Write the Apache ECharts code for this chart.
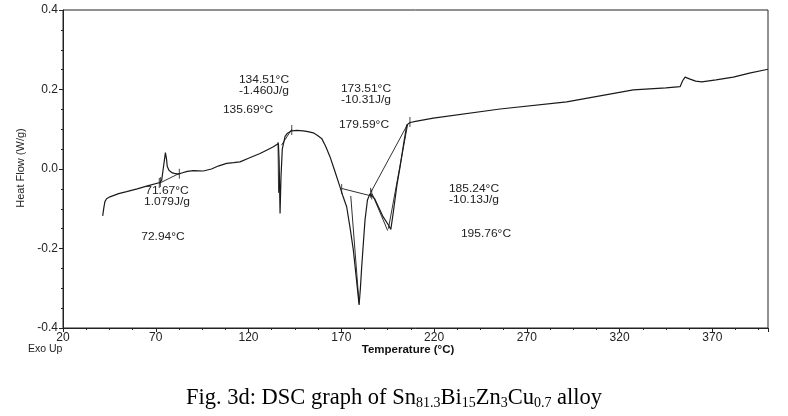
<!DOCTYPE html>
<html>
<head>
<meta charset="utf-8">
<script src="https://cdn.jsdelivr.net/npm/echarts@6/dist/echarts.min.js"></script>
<style>
html,body{margin:0;padding:0;background:#fff;}
#chart{width:788px;height:416px;}
</style>
</head>
<body>
<div id="chart"></div>
<script>
// ---- Data ----
var temperature = [41.4, 42.0, 42.6, 43.5, 45.3, 50, 54.3, 60, 66, 72.3, 73.2, 74.3, 75.2, 75.8, 76.2, 77.2, 78.6, 80, 82.2, 84, 87, 90.3, 95.6, 100, 104, 108.2, 112, 115.4, 120, 126.2, 130, 133.4, 136.1, 136.5, 137.0, 137.5, 138.2, 139.7, 141, 143.3, 146, 149.5, 152, 154.9, 157, 159.4, 161.5, 163.9, 166.5, 169.3, 171, 172.9, 174.8, 176.5, 178, 179.6, 180.3, 181, 182, 182.8, 184.1, 185.5, 186.5, 188, 190, 192.5, 195.4, 196.7, 198, 200, 201.7, 203.5, 205.3, 207.1, 210, 219.6, 255.6, 291.5, 327.4, 345, 352.6, 354, 355.3, 358, 361, 364.3, 372, 381.3, 390, 400];
var heatFlow = [-0.118, -0.098, -0.082, -0.075, -0.070, -0.062, -0.057, -0.050, -0.042, -0.034, -0.028, 0.010, 0.041, 0.025, 0.006, -0.004, -0.009, -0.011, -0.013, -0.010, -0.006, -0.004, -0.005, 0.000, 0.008, 0.014, 0.016, 0.018, 0.027, 0.039, 0.048, 0.056, 0.064, 0.020, -0.112, -0.020, 0.050, 0.082, 0.090, 0.096, 0.097, 0.096, 0.094, 0.091, 0.085, 0.077, 0.058, 0.031, -0.005, -0.045, -0.070, -0.095, -0.150, -0.204, -0.270, -0.342, -0.300, -0.246, -0.180, -0.128, -0.078, -0.062, -0.058, -0.075, -0.095, -0.120, -0.141, -0.152, -0.110, -0.040, 0.006, 0.060, 0.111, 0.117, 0.120, 0.128, 0.151, 0.169, 0.199, 0.204, 0.207, 0.222, 0.231, 0.226, 0.221, 0.219, 0.224, 0.231, 0.241, 0.251];

// analysis construction lines (baselines / tangents), each a pair of [T, W/g]
var constructionLines = [
  [[71.9, -0.036], [82.7, -0.011]],
  [[135.9, 0.068], [136.2, -0.060]],
  [[137.8, 0.060], [143.3, 0.100]],
  [[170.2, -0.049], [186.4, -0.068]],
  [[175.1, -0.068], [179.6, -0.338]],
  [[186.0, -0.058], [205.8, 0.113]],
  [[186.6, -0.062], [195.0, -0.155]],
  [[195.4, -0.150], [205.8, 0.113]]
];

// short vertical cursor marks on the curve
var cursorMarks = [[71.9, -0.035], [72.5, -0.033], [82.7, -0.012], [143.3, 0.098], [170.2, -0.050], [186.4, -0.064], [185.8, -0.060], [207.0, 0.118]];

var yTicks = [-0.4, -0.2, 0.0, 0.2, 0.4];
var xTicks = [20, 70, 120, 170, 220, 270, 320, 370];

var annotationTexts = [
  '134.51°C\n-1.460J/g',
  '135.69°C',
  '173.51°C\n-10.31J/g',
  '179.59°C',
  '71.67°C\n1.079J/g',
  '72.94°C',
  '185.24°C\n-10.13J/g',
  '195.76°C'
];

var captionParts = [['Fig. 3d: DSC graph of Sn', 'n'], ['81.3', 's'], ['Bi', 'n'], ['15', 's'], ['Zn', 'n'], ['3', 's'], ['Cu', 'n'], ['0.7', 's'], [' alloy', 'n']];

// ---- Layout ----
var annotationPos = [[264, 85.5], [248, 110], [366, 95], [364, 125], [167, 197], [163, 237], [474, 195], [486, 234]];

var ink = '#1a1a1a';
var series = [{
  type: 'line',
  data: temperature.map(function (t, i) { return [t, heatFlow[i]]; }),
  showSymbol: false,
  lineStyle: { color: ink, width: 1.2 },
  z: 3,
  silent: true
}];
constructionLines.forEach(function (seg) {
  series.push({
    type: 'line', data: seg, showSymbol: false, silent: true,
    lineStyle: { color: ink, width: 0.9 }, z: 2
  });
});
series.push({
  type: 'scatter', data: cursorMarks, symbol: 'rect', symbolSize: [1, 10],
  itemStyle: { color: ink }, silent: true, z: 4
});

var graphics = annotationTexts.map(function (txt, i) {
  return {
    type: 'text', x: annotationPos[i][0], y: annotationPos[i][1], scaleX: 1.2, scaleY: 1,
    style: { text: txt, fill: '#222', font: '10px "Liberation Sans", Arial, sans-serif', align: 'center', verticalAlign: 'middle', lineHeight: 11 }
  };
});
graphics.push({
  type: 'text', x: 21, y: 168, rotation: Math.PI / 2,
  style: { text: 'Heat Flow (W/g)', fill: '#222', font: '11px "Liberation Sans", Arial, sans-serif', align: 'center', verticalAlign: 'middle' }
});
graphics.push({
  type: 'text', x: 408, y: 350,
  style: { text: 'Temperature (°C)', fill: '#111', font: 'bold 11.5px "Liberation Sans", Arial, sans-serif', align: 'center', verticalAlign: 'middle' }
});
graphics.push({
  type: 'text', x: 28, y: 349,
  style: { text: 'Exo Up', fill: '#222', font: '10.5px "Liberation Sans", Arial, sans-serif', align: 'left', verticalAlign: 'middle' }
});
graphics.push({
  type: 'text', x: 394, y: 398,
  style: {
    text: captionParts.map(function (p) { return '{' + p[1] + '|' + p[0] + '}'; }).join(''),
    align: 'center', verticalAlign: 'middle',
    rich: {
      n: { fontFamily: '"Liberation Serif", "Times New Roman", serif', fontSize: 22.5, fill: '#000', lineHeight: 26, verticalAlign: 'middle' },
      s: { fontFamily: '"Liberation Serif", "Times New Roman", serif', fontSize: 14, fill: '#000', lineHeight: 26, verticalAlign: 'bottom', padding: [0, 0, 1, 0] }
    }
  }
});

var chart = echarts.init(document.getElementById('chart'), null, { renderer: 'canvas' });
chart.setOption({
  animation: false,
  backgroundColor: '#fff',
  grid: { left: 63, right: 20, top: 10, bottom: 88, show: true, borderColor: '#222', borderWidth: 1 },
  xAxis: {
    type: 'value', min: 20, max: 400, interval: 50,
    axisLine: { onZero: false, lineStyle: { color: '#222' } },
    axisTick: { inside: false, length: 4, lineStyle: { color: '#222' } },
    minorTick: { show: true, splitNumber: 4, length: 2, lineStyle: { color: '#222' } },
    splitLine: { show: false },
    axisLabel: {
      color: '#222', fontSize: 12, margin: 4, fontFamily: '"Liberation Sans", Arial, sans-serif',
      showMaxLabel: false,
      formatter: function (v) { return xTicks.indexOf(v) >= 0 ? String(v) : ''; }
    }
  },
  yAxis: {
    type: 'value', min: -0.4, max: 0.4, interval: 0.2,
    axisLine: { show: true, onZero: false, lineStyle: { color: '#222' } },
    axisTick: { show: true, length: 4, lineStyle: { color: '#222' } },
    minorTick: { show: true, splitNumber: 4, length: 2, lineStyle: { color: '#222' } },
    splitLine: { show: false },
    axisLabel: {
      color: '#222', fontSize: 12, margin: 5, fontFamily: '"Liberation Sans", Arial, sans-serif',
      formatter: function (v) {
        for (var i = 0; i < yTicks.length; i++) { if (Math.abs(yTicks[i] - v) < 1e-9) return yTicks[i].toFixed(1); }
        return '';
      }
    }
  },
  series: series,
  graphic: graphics
});
</script>
</body>
</html>
